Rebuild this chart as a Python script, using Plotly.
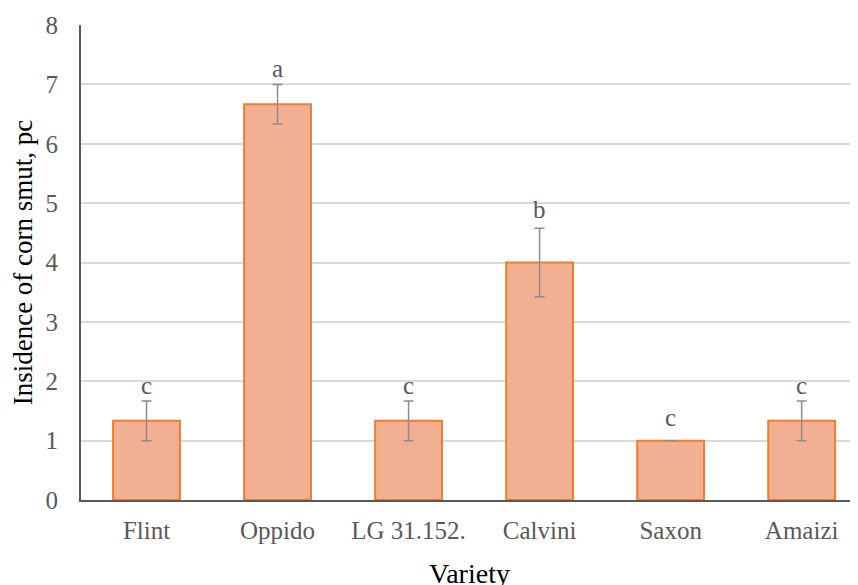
import plotly.graph_objects as go

varieties = ["Flint", "Oppido", "LG 31.152.", "Calvini", "Saxon", "Amaizi"]
incidence = [1.333, 6.667, 1.333, 4.0, 1.0, 1.333]
std_err = [0.333, 0.333, 0.333, 0.577, 0.0, 0.333]
letters = ["c", "a", "c", "b", "c", "c"]

serif = "Liberation Serif, Times New Roman, serif"
# extra gap (px) above each error bar for the significance letters
letter_gap = {"Calvini": 3, "Saxon": 8}

fig = go.Figure()
fig.add_trace(go.Bar(
    x=varieties, y=incidence,
    width=0.51,
    marker=dict(color="#F3AF92", line=dict(color="#ED7D31", width=2)),
    error_y=dict(type="data", array=std_err, visible=True,
                 color="#8C8C8C", thickness=1.5, width=5),
    showlegend=False,
))

for v, val, e, l in zip(varieties, incidence, std_err, letters):
    fig.add_annotation(x=v, y=val + e, text=l, showarrow=False,
                       yanchor="bottom", yshift=0 + letter_gap.get(v, 0),
                       font=dict(family=serif, size=25, color="#595959"))

fig.update_layout(
    width=858, height=585,
    margin=dict(l=73, r=8, t=17, b=93, autoexpand=False),
    paper_bgcolor="white", plot_bgcolor="white",
    xaxis=dict(
        range=[-0.5, 5.43], automargin=False,
        showline=True, linecolor="#595959", linewidth=2,
        showgrid=False, ticks="", ticklabelstandoff=7,
        tickfont=dict(family=serif, size=25, color="#595959"),
        title=dict(text="Variety", font=dict(family=serif, size=28, color="#000000"), standoff=20),
    ),
    yaxis=dict(
        range=[0, 8.001], dtick=1, automargin=False,
        showline=True, linecolor="#595959", linewidth=2,
        showgrid=True, gridcolor="#D9D9D9", gridwidth=1.5,
        zeroline=False, ticks="", ticklabelstandoff=16,
        tickfont=dict(family=serif, size=25, color="#595959"),
        title=dict(text="Insidence of corn smut, pc", font=dict(family=serif, size=27, color="#000000"), standoff=10),
    ),
)

fig.write_html("out.html")
